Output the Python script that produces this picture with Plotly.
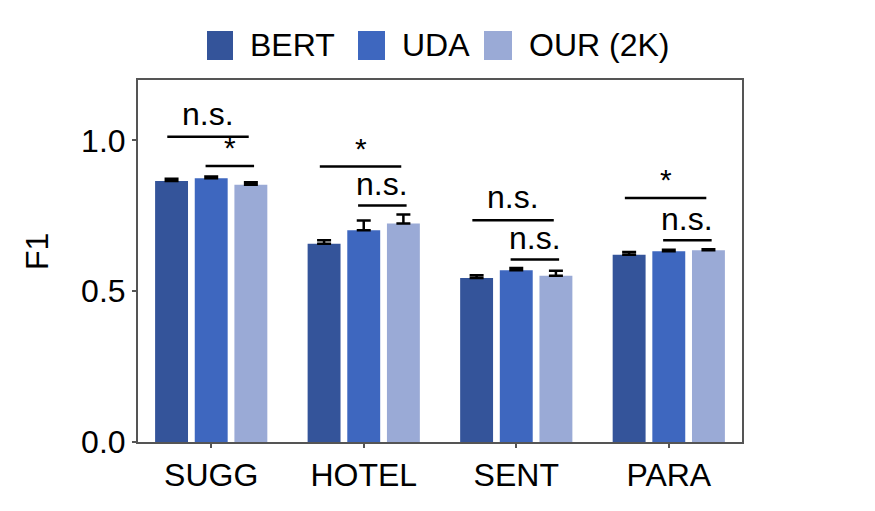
import plotly.graph_objects as go

# data
categories = ["SUGG", "HOTEL", "SENT", "PARA"]
series_names = ["BERT", "UDA", "OUR (2K)"]
bert_f1 = [0.865, 0.657, 0.544, 0.621]
uda_f1 = [0.874, 0.702, 0.569, 0.632]
our_f1 = [0.853, 0.724, 0.551, 0.636]
bert_err = [0.008, 0.012, 0.009, 0.009]
uda_err = [0.006, 0.032, 0.008, 0.005]
our_err = [0.008, 0.030, 0.017, 0.003]

# significance marks: upper (long) bracket and lower (short) bracket per group
long_sig = ["n.s.", "*", "n.s.", "*"]
long_y = [1.012, 0.913, 0.735, 0.809]
short_sig = ["*", "n.s.", "n.s.", "n.s."]
short_y = [0.915, 0.784, 0.605, 0.669]

colors = ["#34549a", "#3e67bf", "#9aaad6"]
font = "Liberation Sans, Arial, sans-serif"

# plot area in screen pixels; the page adds an 8px body margin
OFF = 8
L, R, T, B = 138, 742, 80, 442
W, H = R - L, B - T


def px(xp):
    return (xp - L) / W


def py(yp):
    return (B - yp) / H


fig = go.Figure()
x = list(range(len(categories)))
for name, vals, errs, col in zip(series_names, [bert_f1, uda_f1, our_f1],
                                 [bert_err, uda_err, our_err], colors):
    fig.add_trace(go.Bar(
        x=x, y=vals, name=name, marker_color=col, marker_line_width=0,
        showlegend=False,
        error_y=dict(type="data", array=errs, arrayminus=[0] * len(errs),
                     symmetric=False, color="black", thickness=2.5, width=7),
    ))

# brackets + labels
for i in x:
    for (x0, x1), lab, yv, sh in [((-0.288, 0.246), long_sig[i], long_y[i], 3),
                                  ((-0.037, 0.281), short_sig[i], short_y[i], 1)]:
        fig.add_shape(type="line", x0=i + x0, x1=i + x1, y0=yv, y1=yv,
                      xref="x", yref="y", line=dict(color="black", width=2.5))
        star = lab == "*"
        fig.add_annotation(x=i + (x0 + x1) / 2, y=yv, text=lab, showarrow=False,
                           yanchor="bottom", yshift=0 if star else sh,
                           font=dict(family=font, size=30 if star else 32,
                                     color="black"))

# legend drawn by hand (squares + labels) to get the big swatches
leg_sq = [(207, 233), (358, 385), (484, 512)]
leg_tx = [248, 400, 527]
for (a, b), t, name, col in zip(leg_sq, leg_tx, series_names, colors):
    fig.add_shape(type="rect", xref="paper", yref="paper",
                  x0=px(a), x1=px(b), y0=py(60), y1=py(31),
                  fillcolor=col, line_width=0)
    fig.add_annotation(xref="paper", yref="paper", x=px(t), y=py(45),
                       xanchor="left", yanchor="middle", text=name,
                       showarrow=False,
                       font=dict(family=font, size=32, color="black"))

fig.add_annotation(xref="paper", yref="paper", x=px(37), y=py(252),
                   text="F1", textangle=-90, showarrow=False,
                   xanchor="center", yanchor="middle",
                   font=dict(family=font, size=32, color="black"))

fig.update_layout(
    width=875, height=511,
    margin=dict(l=L - OFF, r=875 - R + OFF, t=T - OFF, b=511 - B + OFF,
                autoexpand=False),
    paper_bgcolor="white", plot_bgcolor="white",
    barmode="group", bargap=0.22, bargroupgap=0.17,
    font=dict(family=font, color="black"),
    showlegend=False,
    xaxis=dict(range=[-0.48, 3.48], tickvals=x, ticktext=categories,
               tickfont=dict(size=32), showgrid=False, zeroline=False,
               showline=True, mirror=True, linecolor="#555", linewidth=2,
               ticks="outside", ticklen=4, tickwidth=2, tickcolor="#555",
               automargin=False),
    yaxis=dict(range=[0, 1.2], tickvals=[0, 0.5, 1.0],
               ticktext=["0.0", "0.5", "1.0"], tickfont=dict(size=32),
               showgrid=False, zeroline=False, showline=True, mirror=True,
               linecolor="#555", linewidth=2, ticks="outside", ticklen=4,
               tickwidth=2, tickcolor="#555", automargin=False),
)

fig.write_html("out.html")
